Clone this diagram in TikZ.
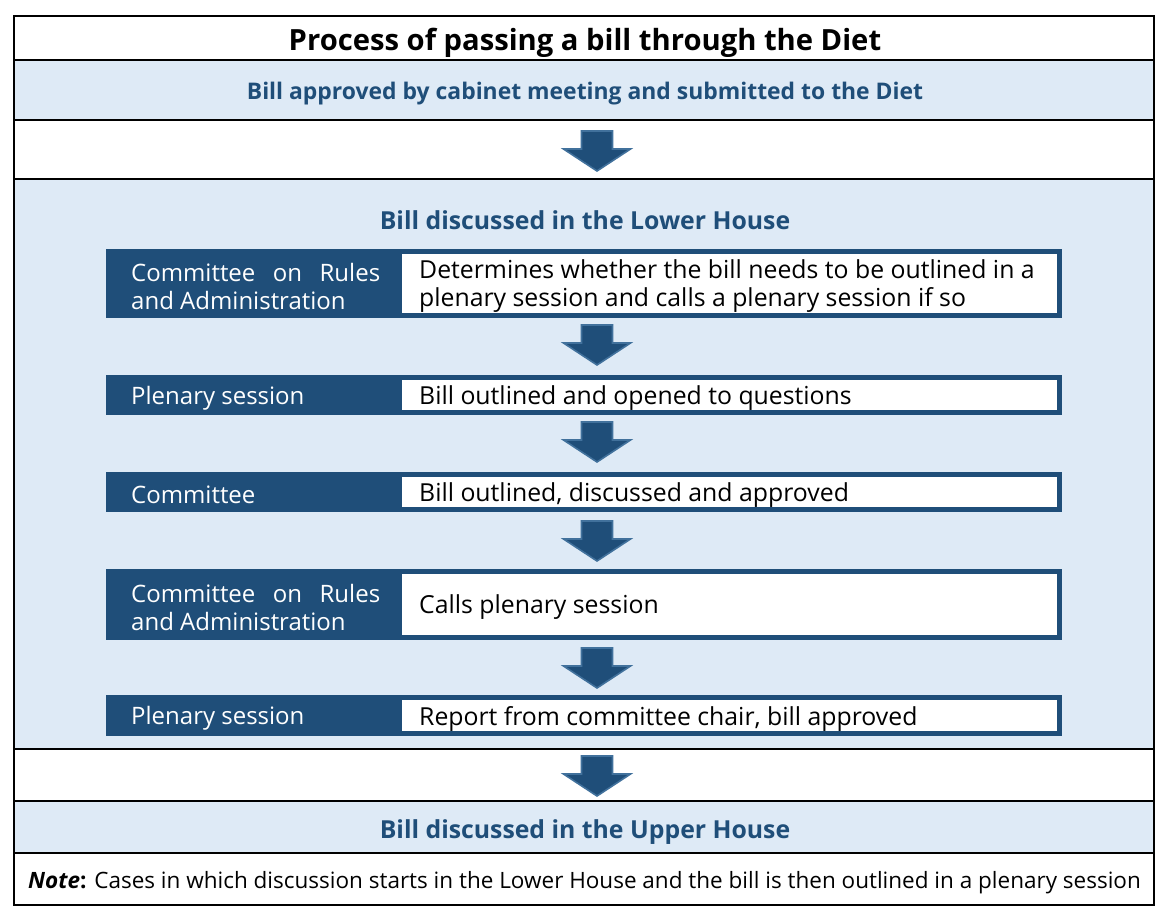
\documentclass[tikz,border=0pt]{standalone}
\usepackage{fontspec}
\setmainfont{Open Sans}
\definecolor{dblue}{HTML}{1F4E79}
\definecolor{lblue}{HTML}{DEEAF6}
\definecolor{aedge}{HTML}{41719C}
\definecolor{tblue}{HTML}{1F4E79}
\newcommand\blockarr[3]{%
  \coordinate (#1) at (#2,#3);
  \filldraw[arr] ($(#1)+(-15.5,0)$) -- ++(31,0) -- ++(0,18) -- ++(18,0) -- ($(#1)+(0,40)$) -- ($(#1)+(-33.5,18)$) -- ++(18,0) -- cycle;}
\usetikzlibrary{calc}
\begin{document}
\begin{tikzpicture}[x=1pt,y=-1pt,
  arr/.style={fill=dblue,draw=aedge,line width=1.6pt,line join=miter},
  band/.style={fill=lblue,draw=none},
  rule/.style={draw=black,line width=1.5pt},
  dark/.style={fill=dblue,draw=none},
  white/.style={fill=white,draw=none},
  txt/.style={inner sep=0pt,yshift=-3pt},
  lab/.style={txt,anchor=west,text=white,font=\fontsize{24}{28}\selectfont,align=left},
  desc/.style={txt,anchor=west,text=black,font=\fontsize{24.8}{28}\selectfont,align=left},
  head/.style={txt,text=tblue,font=\fontsize{24.8}{28}\selectfont\bfseries}
]
\useasboundingbox (0,0) rectangle (1168,922);
\fill[white] (0,0) rectangle (1168,922);
% bands
\fill[band] (14,60) rectangle (1154,120);
\fill[band] (14,179) rectangle (1154,749);
\fill[band] (14,801) rectangle (1154,853);
% rules
\draw[rule] (14,60) -- (1154,60);
\draw[rule] (14,120) -- (1154,120);
\draw[rule] (14,179) -- (1154,179);
\draw[rule] (14,749) -- (1154,749);
\draw[rule] (14,801) -- (1154,801);
\draw[rule] (14,853) -- (1154,853);
\draw[rule] (14,16) rectangle (1154,905);
% headings
\node[txt,font=\fontsize{29.2}{32}\selectfont\bfseries] (title) at (585,40) {Process of passing a bill through the Diet};
\node[txt,text=tblue,font=\fontsize{22.9}{26}\selectfont\bfseries] (sub) at (585,91) {Bill approved by cabinet meeting and submitted to the Diet};
\node[head] (lower) at (585,217) {Bill discussed in the Lower House};
\node[head] (upper) at (585,829) {Bill discussed in the Upper House};
\node[txt,anchor=west,font=\fontsize{22.5}{26}\selectfont] (note) at (28,880) {\textbf{\textit{Note}}\textbf{:} Cases in which discussion starts in the Lower House and the bill is then outlined in a plenary session};
% step boxes
\foreach \n/\t/\b in {b1/249/318, b2/375/415, b3/472/512, b4/569/640, b5/695/736}{
  \fill[dark] (106,\t) rectangle (1062,\b);
  \fill[white] (402,\t+5) rectangle (1057,\b-5);
  \coordinate (\n) at (0,{(\t+\b)/2});
}
\node[lab] (l1) at ($(b1)+(131,0)$) {\hbox to 249pt{Committee\hfill on\hfill Rules}\\and Administration};
\node[desc] (d1) at ($(b1)+(419,0)$) {Determines whether the bill needs to be outlined in a\\plenary session and calls a plenary session if so};
\node[lab] (l2) at ($(b2)+(131,0)$) {Plenary session};
\node[desc] (d2) at ($(b2)+(419,0)$) {Bill outlined and opened to questions};
\node[lab] (l3) at ($(b3)+(131,0)$) {Committee};
\node[desc] (d3) at ($(b3)+(419,0)$) {Bill outlined, discussed and approved};
\node[lab] (l4) at ($(b4)+(131,0)$) {\hbox to 249pt{Committee\hfill on\hfill Rules}\\and Administration};
\node[desc] (d4) at ($(b4)+(419,0)$) {Calls plenary session};
\node[lab] (l5) at ($(b5)+(131,0)$) {Plenary session};
\node[desc] (d5) at ($(b5)+(419,0)$) {Report from committee chair, bill approved};
% arrows
\blockarr{a1}{597}{131}
\blockarr{a2}{597}{325}
\blockarr{a3}{597}{422}
\blockarr{a4}{597}{521}
\blockarr{a5}{597}{648}
\blockarr{a6}{597}{756}
\end{tikzpicture}
\end{document}
